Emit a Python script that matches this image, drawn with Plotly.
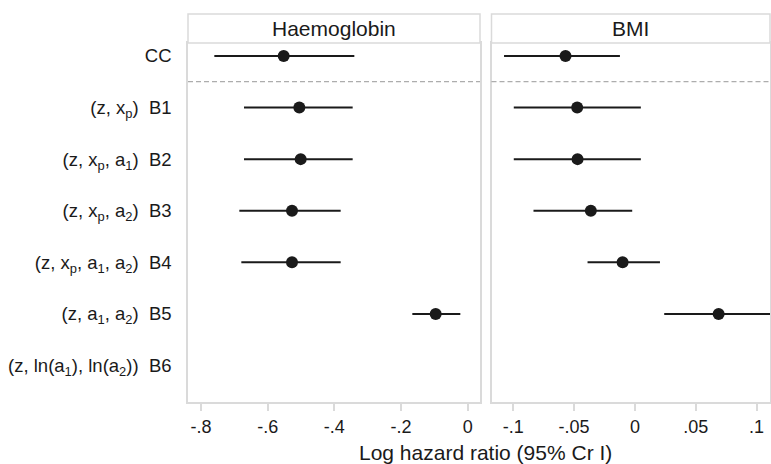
import plotly.graph_objects as go

# ---- data ----
row_labels = [
    "CC",
    "(z, x<sub>p</sub>)  B1",
    "(z, x<sub>p</sub>, a<sub>1</sub>)  B2",
    "(z, x<sub>p</sub>, a<sub>2</sub>)  B3",
    "(z, x<sub>p</sub>, a<sub>1</sub>, a<sub>2</sub>)  B4",
    "(z, a<sub>1</sub>, a<sub>2</sub>)  B5",
    "(z, ln(a<sub>1</sub>), ln(a<sub>2</sub>))  B6",
]
panel_titles = ["Haemoglobin", "BMI"]

hb_est = [-0.552, -0.505, -0.501, -0.527, -0.527, -0.096, None]
hb_lo = [-0.760, -0.671, -0.671, -0.685, -0.679, -0.166, None]
hb_hi = [-0.340, -0.345, -0.345, -0.381, -0.381, -0.022, None]

bmi_est = [-0.057, -0.0474, -0.0471, -0.0362, -0.0101, 0.0688, None]
bmi_lo = [-0.1075, -0.0995, -0.0995, -0.0833, -0.0389, 0.0241, None]
bmi_hi = [-0.0123, 0.0049, 0.0049, -0.0022, 0.0206, 0.120, None]

hb_ticks = [-0.8, -0.6, -0.4, -0.2, 0]
hb_ticktext = ["-.8", "-.6", "-.4", "-.2", "0"]
bmi_ticks = [-0.1, -0.05, 0, 0.05, 0.1]
bmi_ticktext = ["-.1", "-.05", "0", ".05", ".1"]

x_title = "Log hazard ratio (95% Cr I)"

# ---- figure ----
W, H = 771, 464
FONT = "Liberation Sans, Arial, Helvetica, sans-serif"
INK = "#1a1a1a"
FRAME = "#dadada"

ypos = list(range(len(row_labels)))


def err(est, lo, hi):
    plus = [None if e is None else h - e for e, h in zip(est, hi)]
    minus = [None if e is None else e - l for e, l in zip(est, lo)]
    return plus, minus


fig = go.Figure()
for est, lo, hi, xa, ya in [
    (hb_est, hb_lo, hb_hi, "x", "y"),
    (bmi_est, bmi_lo, bmi_hi, "x2", "y2"),
]:
    p, m = err(est, lo, hi)
    fig.add_trace(go.Scatter(
        x=est, y=ypos, mode="markers", xaxis=xa, yaxis=ya,
        marker=dict(size=12, color=INK),
        error_x=dict(type="data", symmetric=False, array=p, arrayminus=m,
                     color=INK, thickness=2, width=0),
        showlegend=False, cliponaxis=True,
    ))

x1 = [188 / W, 480 / W]
x2 = [491.5 / W, 770 / W]
ytop, ybot = 43, 401.7
ydom = [1 - ybot / H, 1 - ytop / H]

common_x = dict(showgrid=False, zeroline=False, showline=True, linecolor=FRAME,
                linewidth=1.5, mirror=True, ticks="outside", ticklen=8,
                tickcolor=FRAME, tickwidth=1.5,
                tickfont=dict(size=18, color=INK, family=FONT))
common_y = dict(showgrid=False, zeroline=False, showline=True, linecolor=FRAME,
                linewidth=1.5, mirror=True, ticks="",
                range=[6.70, -0.25], domain=ydom)

fig.update_layout(
    width=W, height=H,
    margin=dict(l=0, r=0, t=0, b=0),
    paper_bgcolor="white", plot_bgcolor="white",
    font=dict(family=FONT, size=18, color=INK),
    xaxis=dict(domain=x1, range=[-0.839, 0.037], tickvals=hb_ticks,
               ticktext=hb_ticktext, anchor="y", **common_x),
    xaxis2=dict(domain=x2, range=[-0.1178, 0.111], tickvals=bmi_ticks,
                ticktext=bmi_ticktext, anchor="y2", **common_x),
    yaxis=dict(anchor="x", tickvals=ypos, ticktext=row_labels,
               tickfont=dict(size=18.5, color=INK, family=FONT),
               ticklabelstandoff=11, **common_y),
    yaxis2=dict(anchor="x2", matches="y", showticklabels=False, **common_y),
)

# strip headers
for dom, title in zip([x1, x2], panel_titles):
    fig.add_shape(type="rect", xref="paper", yref="paper",
                  x0=dom[0], x1=dom[1], y0=1 - ytop / H, y1=1 - 14 / H,
                  line=dict(color=FRAME, width=1.5), fillcolor="white")
    fig.add_annotation(xref="paper", yref="paper", x=(dom[0] + dom[1]) / 2,
                       y=1 - 28.5 / H, text=title, showarrow=False,
                       font=dict(size=21, color=INK, family=FONT),
                       xanchor="center", yanchor="middle")

# dashed separator between CC and the B rows
for xr, yr in [("x domain", "y"), ("x2 domain", "y2")]:
    fig.add_shape(type="line", xref=xr, yref=yr, x0=0, x1=1, y0=0.5, y1=0.5,
                  line=dict(color="#999999", width=1, dash="5px,3px"))

fig.add_annotation(xref="paper", yref="paper", x=485 / W, y=1 - 452 / H,
                   text=x_title, showarrow=False, xanchor="center",
                   yanchor="middle", font=dict(size=21, color=INK, family=FONT))

fig.write_html("out.html",
               config={"displayModeBar": False},
               post_script="document.body.style.margin='0px';"
                           "document.body.style.overflow='hidden';")
